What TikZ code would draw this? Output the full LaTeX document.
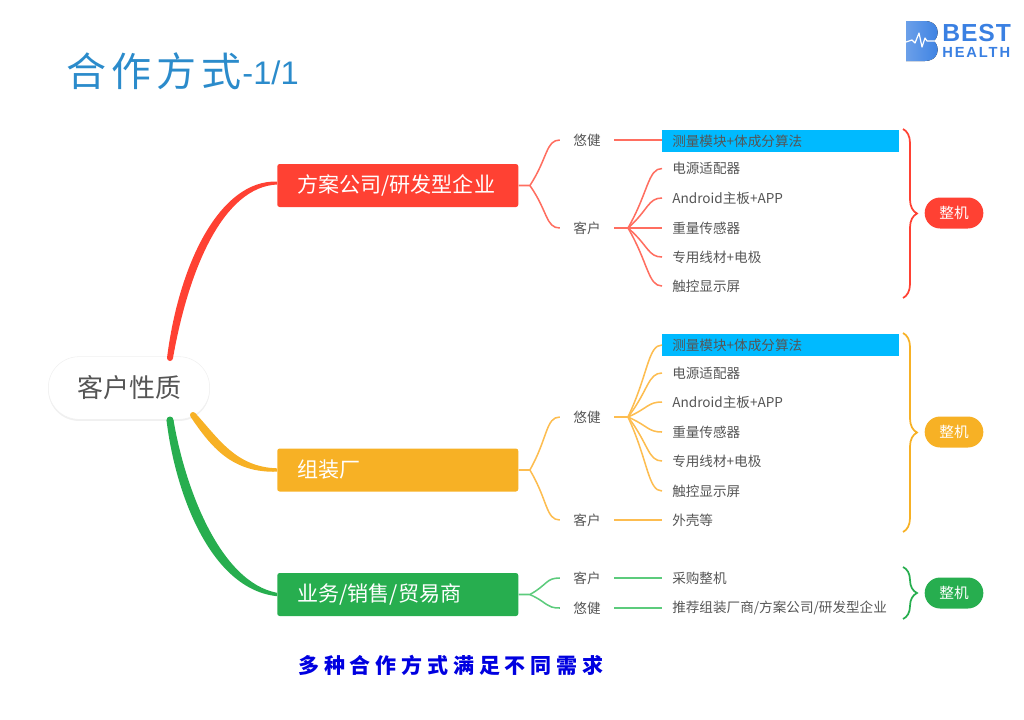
\documentclass[tikz,border=0pt]{standalone}
\usepackage{fontspec}
\setmainfont{Noto Sans CJK SC}
\newfontfamily\ttlfont[LetterSpace=13]{Noto Sans CJK SC}
\newfontfamily\ftrfont[LetterSpace=23]{Noto Sans CJK SC}
\newfontfamily\lgfont{Liberation Sans}
\newfontfamily\lgbestf[LetterSpace=4]{Liberation Sans}
\newfontfamily\lghealf[LetterSpace=13]{Liberation Sans}
\usetikzlibrary{positioning,decorations.pathreplacing,calc,shadows}
\definecolor{cred}{HTML}{FF4133}
\definecolor{cora}{HTML}{F7B125}
\definecolor{cgrn}{HTML}{27AE4F}
\definecolor{lred}{HTML}{FF6E60}
\definecolor{lora}{HTML}{FDBD50}
\definecolor{lgrn}{HTML}{5CCB7C}
\definecolor{hilt}{HTML}{00BAFF}
\definecolor{txt}{HTML}{555555}
\definecolor{ttl}{HTML}{2B8BCB}
\definecolor{lgo}{HTML}{3A80E2}
\tikzset{
  rootnd/.style={draw=black!6, fill=white, rounded corners=23pt, minimum width=121pt, minimum height=47pt,
    font=\fontsize{19.5}{22}\selectfont, text=txt, drop shadow={opacity=.12, shadow xshift=0pt, shadow yshift=-1.2pt}},
  bigbox/.style={anchor=west, rounded corners=1.8pt, text=white, inner xsep=15pt, inner ysep=0pt, minimum height=32.25pt,
    text width=150.75pt, align=left, font=\fontsize{15.8}{18}\selectfont},
  who/.style={text=txt, inner xsep=10pt, inner ysep=1pt, font=\fontsize{10.2}{12}\selectfont},
  leaf/.style={anchor=west, text=txt, inner xsep=7.5pt, inner ysep=0pt, minimum height=16.5pt, text width=162.75pt,
    align=left, font=\fontsize{10.2}{12}\selectfont},
  hlleaf/.style={leaf, fill=hilt},
  pill/.style={rounded corners=11.6pt, minimum width=44pt, minimum height=23.25pt, inner sep=0pt, text=white,
    font=\fontsize{11}{13}\selectfont},
  thin1/.style={line width=1.15pt},
  fan/.style={to path={.. controls ($(\tikztostart)!.6!(\tikztotarget)$) and ($(\tikztotarget)+(-14,0)$) .. (\tikztotarget)}},
  brc/.style={line width=1.3pt, decorate, decoration={brace, amplitude=10.5pt}}}
\begin{document}
\begin{tikzpicture}[x=.75pt, y=-.75pt]
\useasboundingbox (0,0) rectangle (1024,719);
\node[anchor=west, inner sep=0pt, text=ttl] (ttlcn) at (66,71) {\fontsize{30}{34}\ttlfont 合作方式};
\node[anchor=west, inner sep=0pt, text=ttl, right=0pt of ttlcn, yshift=-1pt] (ttlno) {\fontsize{24.5}{28}\lgfont -1/1};
% logo
\fill[left color=lgo!75!white, right color=lgo] (906,21) -- (925,21) .. controls (938,21) and (941,34) .. (934,41)
  .. controls (941,48) and (938,61) .. (925,61) -- (906,61) -- cycle;
\draw[white, line width=.9pt, line join=round] (906,42) -- (912,40) -- (915,43) -- (919,33) -- (922,47) -- (925,38) -- (927,41) -- (935,41);
\node[anchor=west, inner sep=0pt, text=lgo] (lgbest) at (942,33) {\fontsize{18.5}{20}\lgbestf\bfseries BEST};
\node[anchor=west, inner sep=0pt, text=lgo] (lgheal) at (942,52.5) {\fontsize{11}{12}\lghealf\bfseries HEALTH};

\node[rootnd] (root) at (129,388) {客户性质};
\node[bigbox, fill=cred] (b1) at (277,185.5) {方案公司/研发型企业};
\node[bigbox, fill=cora] (b2) at (277,470) {组装厂};
\node[bigbox, fill=cgrn] (b3) at (277,594.5) {业务/销售/贸易商};
\coordinate (r1) at (170,358);
\coordinate (r2) at (193,415);
\coordinate (r3) at (170,420);
% main branches get thinner towards the box
\fill[cred] (r1) circle (3);
\fill[cred] ($(r1)+(-3,0)$) .. controls (179,263) and (220,180) .. ($(b1.west)+(0,-4)$)
  -- ($(b1.west)+(0,-1)$) .. controls (224,187) and (189,267) .. ($(r1)+(3,0)$) -- cycle;
\fill[cora] (r2) circle (3);
\fill[cora] ($(r2)+(2.4,-1.8)$) .. controls (219,439) and (236,467) .. ($(b2.west)+(0,-1.7)$)
  -- ($(b2.west)+(0,1.7)$) .. controls (232,473) and (211,447) .. ($(r2)+(-2.4,1.8)$) -- cycle;
\fill[cgrn] (r3) circle (3.5);
\fill[cgrn] ($(r3)+(-3.5,0)$) .. controls (175,492) and (210,589) .. ($(b3.west)+(0,1.7)$)
  -- ($(b3.west)+(0,-1.7)$) .. controls (220,582) and (185,488) .. ($(r3)+(3.5,0)$) -- cycle;

\node[who] (y1) at (587,140) {悠健};
\node[who] (k1) at (587,228) {客户};
\coordinate[right=8.5pt of b1.east] (fk1);
\draw[thin1, lred] (b1.east) -- (fk1) to[fan] (y1.west);
\draw[thin1, lred] (fk1) to[fan] (k1.west);
\node[hlleaf] (a0) at (662,141) {测量模块+体成分算法};
\draw[thin1, lred] (y1.east) -- (y1.east -| a0.west);
\coordinate (fa) at (628,228);
\draw[thin1, lred] (k1.east) -- (fa);
\foreach \t/\yy [count=\i] in {电源适配器/168.5, Android主板+APP/198, 重量传感器/228, 专用线材+电极/257, 触控显示屏/286} {
  \node[leaf] (a\i) at (662,\yy) {\t};
  \draw[thin1, lred] (fa) to[fan] (a\i.west);}
\coordinate (t1) at (903,129);
\coordinate (u1) at (903,298);
\draw[brc, cred] (t1) -- (u1);
\node[pill, fill=cred] (m1) at (954,213) {整机};

\node[who] (y2) at (587,417) {悠健};
\node[who] (k2) at (587,520) {客户};
\coordinate[right=8.5pt of b2.east] (fk2);
\draw[thin1, lora] (b2.east) -- (fk2) to[fan] (y2.west);
\draw[thin1, lora] (fk2) to[fan] (k2.west);
\coordinate (fb) at (628,417);
\draw[thin1, lora] (y2.east) -- (fb);
\node[hlleaf] (c0) at (662,345) {测量模块+体成分算法};
\draw[thin1, lora] (fb) to[fan] (c0.west);
\foreach \t/\yy [count=\i] in {电源适配器/373, Android主板+APP/402, 重量传感器/432, 专用线材+电极/461, 触控显示屏/491} {
  \node[leaf] (c\i) at (662,\yy) {\t};
  \draw[thin1, lora] (fb) to[fan] (c\i.west);}
\node[leaf] (c6) at (662,520) {外壳等};
\draw[thin1, lora] (k2.east) -- (c6.west);
\coordinate (t2) at (903,333);
\coordinate (u2) at (903,532);
\draw[brc, cora] (t2) -- (u2);
\node[pill, fill=cora] (m2) at (954,432) {整机};

\node[who] (k3) at (587,578) {客户};
\node[who] (y3) at (587,608) {悠健};
\coordinate[right=8.5pt of b3.east] (fk3);
\draw[thin1, lgrn] (b3.east) -- (fk3) to[fan] (k3.west);
\draw[thin1, lgrn] (fk3) to[fan] (y3.west);
\node[leaf] (e1) at (662,578) {采购整机};
\node[leaf] (e2) at (662,608) {推荐组装厂商/方案公司/研发型企业};
\draw[thin1, lgrn] (k3.east) -- (e1.west);
\draw[thin1, lgrn] (y3.east) -- (e2.west);
\coordinate (t3) at (903,567);
\coordinate (u3) at (903,619);
\draw[brc, cgrn] (t3) -- (u3);
\node[pill, fill=cgrn] (m3) at (954,593) {整机};

\node[anchor=west, inner sep=0pt, text={rgb,255:red,0;green,0;blue,224}] (ftr) at (298,665) {\fontsize{15.75}{18}\ftrfont\bfseries 多种合作方式满足不同需求};
\end{tikzpicture}
\end{document}
